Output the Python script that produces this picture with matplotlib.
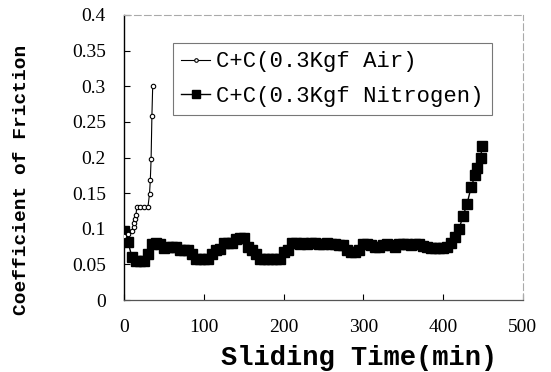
import matplotlib
matplotlib.use("Agg")
import matplotlib.pyplot as plt

# Air series
air_time = [0, 5, 10, 12, 13, 14, 15, 16, 20, 25, 30, 32, 33, 34, 35, 36]
air_cof = [0.09, 0.092, 0.097, 0.103, 0.108, 0.113, 0.119, 0.13, 0.13, 0.13, 0.13,
           0.149, 0.168, 0.198, 0.258, 0.30]

# Nitrogen series
n2_time = [0, 5, 10, 15, 20, 25, 30, 35, 40, 45, 50, 55, 60, 65, 70, 75, 80, 85, 90,
           95, 100, 105, 110, 115, 120, 125, 130, 135, 140, 145, 150, 155, 160, 165,
           170, 175, 180, 185, 190, 195, 200, 205, 210, 215, 220, 225, 230, 235, 240,
           245, 250, 255, 260, 265, 270, 275, 280, 285, 290, 295, 300, 305, 310, 315,
           320, 325, 330, 335, 340, 345, 350, 355, 360, 365, 370, 375, 380, 385, 390,
           395, 400, 405, 410, 415, 420, 425, 430, 435, 440, 443, 447, 449]
n2_cof = [0.097, 0.082, 0.060, 0.055, 0.055, 0.055, 0.065, 0.078, 0.080, 0.078, 0.073,
          0.075, 0.075, 0.075, 0.070, 0.070, 0.070, 0.065, 0.058, 0.058, 0.058, 0.058,
          0.065, 0.070, 0.072, 0.080, 0.080, 0.080, 0.085, 0.087, 0.087, 0.075, 0.070,
          0.065, 0.058, 0.058, 0.058, 0.058, 0.058, 0.058, 0.068, 0.070, 0.080, 0.080,
          0.078, 0.080, 0.078, 0.080, 0.080, 0.078, 0.078, 0.080, 0.078, 0.078, 0.077,
          0.077, 0.070, 0.068, 0.068, 0.070, 0.078, 0.078, 0.077, 0.075, 0.075, 0.077,
          0.078, 0.077, 0.075, 0.078, 0.078, 0.078, 0.077, 0.078, 0.078, 0.076, 0.074,
          0.073, 0.073, 0.073, 0.073, 0.075, 0.080, 0.088, 0.100, 0.118, 0.135, 0.158,
          0.175, 0.185, 0.200, 0.216]

x_ticks = [0, 100, 200, 300, 400, 500]
y_ticks = [0, 0.05, 0.1, 0.15, 0.2, 0.25, 0.3, 0.35, 0.4]
y_ticklabels = ["0", "0.05", "0.1", "0.15", "0.2", "0.25", "0.3", "0.35", "0.4"]

fig = plt.figure(figsize=(5.51, 3.72), dpi=100)
ax = fig.add_axes([0.225, 0.1935, 0.724, 0.7662])

ax.plot(n2_time, n2_cof, color="black", lw=1.0, marker="s", markersize=6.5,
        markerfacecolor="black", markeredgecolor="black",
        label="C+C(0.3Kgf Nitrogen)", zorder=2)
ax.plot(air_time, air_cof, color="black", lw=0.8, marker="o", markersize=3.2,
        markerfacecolor="white", markeredgecolor="black", markeredgewidth=0.8,
        label="C+C(0.3Kgf Air)", zorder=3)

ax.set_xlim(0, 500)
ax.set_ylim(0, 0.4)

ax.tick_params(direction="in", length=4, width=0.8, colors="black",
               top=False, right=False, labelsize=14,
               labelfontfamily="Liberation Serif")
ax.tick_params(axis="y", pad=13)
ax.tick_params(axis="x", pad=14)

ax.set_xticks(x_ticks)
ax.set_yticks(y_ticks)
ax.set_yticklabels(y_ticklabels)

ax.spines["left"].set_color("black")
ax.spines["left"].set_linewidth(1.0)
ax.spines["bottom"].set_color("#555555")
ax.spines["bottom"].set_linewidth(0.9)
for s in ["top", "right"]:
    ax.spines[s].set_color("#aaaaaa")
    ax.spines[s].set_linewidth(0.8)
    ax.spines[s].set_linestyle((0, (6, 3)))

ax.set_xlabel("Sliding Time(min)", fontfamily="Liberation Mono", fontweight="bold",
              fontsize=19.5)
ax.set_ylabel("Coefficient of Friction", fontfamily="Liberation Mono",
              fontweight="bold", fontsize=14)
ax.xaxis.set_label_coords(0.589, -0.158)
ax.yaxis.set_label_coords(-0.235, 0.42)

handles, labels = ax.get_legend_handles_labels()
leg = ax.legend(handles[::-1], labels[::-1], loc="upper left",
                bbox_to_anchor=(0.123, 0.902), frameon=True, fancybox=False,
                prop={"family": "Liberation Mono", "size": 16},
                handlelength=1.3, handletextpad=0.25, borderpad=0.38,
                labelspacing=0.6, borderaxespad=0, markerscale=0.8)
leg.get_frame().set_edgecolor("#555555")
leg.get_frame().set_linewidth(0.8)

fig.savefig("out.png", dpi=100)
